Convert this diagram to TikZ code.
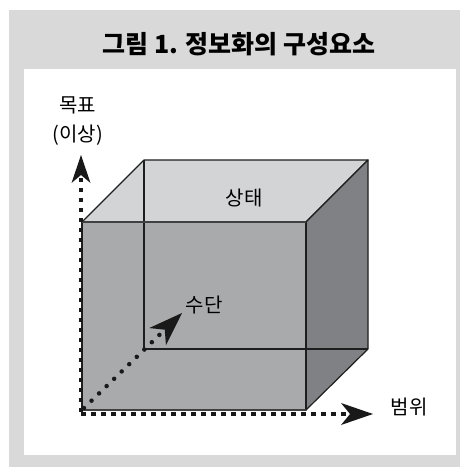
\documentclass[tikz,border=0pt]{standalone}
\usepackage{fontspec}
\setmainfont{Noto Sans CJK KR}
\usetikzlibrary{arrows.meta}
\definecolor{framegray}{HTML}{D9D9D9}
\definecolor{topface}{HTML}{D3D4D5}
\definecolor{frontface}{HTML}{A9AAAC}
\definecolor{sideface}{HTML}{808184}
\definecolor{edgec}{HTML}{1E1E1E}
\tikzset{
  lab/.style={font=\fontsize{20}{22}\selectfont, inner sep=0pt, text=black},
  edge/.style={draw=edgec, line width=1.2pt, line join=round},
  axisline/.style={line width=4pt, dash pattern=on 4.5pt off 5.5pt, draw=black!90},
  vaxis/.style={axisline, -{Stealth[length=28pt,width=19pt,inset=8pt,line width=0pt]}},
  haxis/.style={axisline, -{Stealth[length=32pt,width=22pt,inset=9pt,line width=0pt]}},
  diag/.style={line width=4.5pt, line cap=round, dash pattern=on 0pt off 10.5pt, draw=black!90,
     -{Stealth[length=34pt,width=24pt,inset=10pt,line width=0pt]}}
}
\begin{document}
\begin{tikzpicture}[x=1pt,y=-1pt]
\useasboundingbox (0,0) rectangle (460,467);
\fill[framegray] (9,10) rectangle (460,467);
\fill[white] (24,69) rectangle (456,455);
\node[font=\fontsize{25}{28}\selectfont\bfseries, inner sep=0pt] (title) at (239,44) {그림 1. 정보화의 구성요소};
% cube corners
\coordinate (FTL) at (82,222);
\coordinate (FTR) at (306,222);
\coordinate (FBR) at (306,410);
\coordinate (FBL) at (82,410);
\coordinate (BTL) at (144,160);
\coordinate (BTR) at (368,160);
\coordinate (BBR) at (368,349);
\coordinate (BBL) at (144,349);
% faces
\filldraw[fill=topface, edge] (FTL) -- (BTL) -- (BTR) -- (FTR) -- cycle;
\filldraw[fill=sideface, edge] (FTR) -- (BTR) -- (BBR) -- (FBR) -- cycle;
\filldraw[fill=frontface, edge] (FTL) -- (FTR) -- (FBR) -- (FBL) -- cycle;
% hidden edges
\draw[edge] (BTL) -- (BBL) -- (BBR);
\draw[draw=edgec!85, line width=2pt] (FTL) -- (FTR);
\draw[draw=edgec!85, line width=2pt] (FBL) -- (FBR);
% labels
\node[lab] (goal) at (78,105) {목표};
\node[lab] (ideal) at (78,135) {(이상)};
\node[lab] (state) at (244,198) {상태};
\node[lab] (means) at (204,305) {수단};
\node[lab] (range) at (409,407) {범위};
% axes
\coordinate (O) at (81,414);
\coordinate (Ov) at (81,412);
\coordinate (Vtip) at (81,155);
\coordinate (Htip) at (373,414);
\coordinate (Dstart) at (84,408);
\coordinate (Dtip) at (182,313);
\draw[vaxis] (Ov) -- (Vtip);
\draw[haxis] (O) -- (Htip);
\draw[diag] (Dstart) -- (Dtip);
\end{tikzpicture}
\end{document}
